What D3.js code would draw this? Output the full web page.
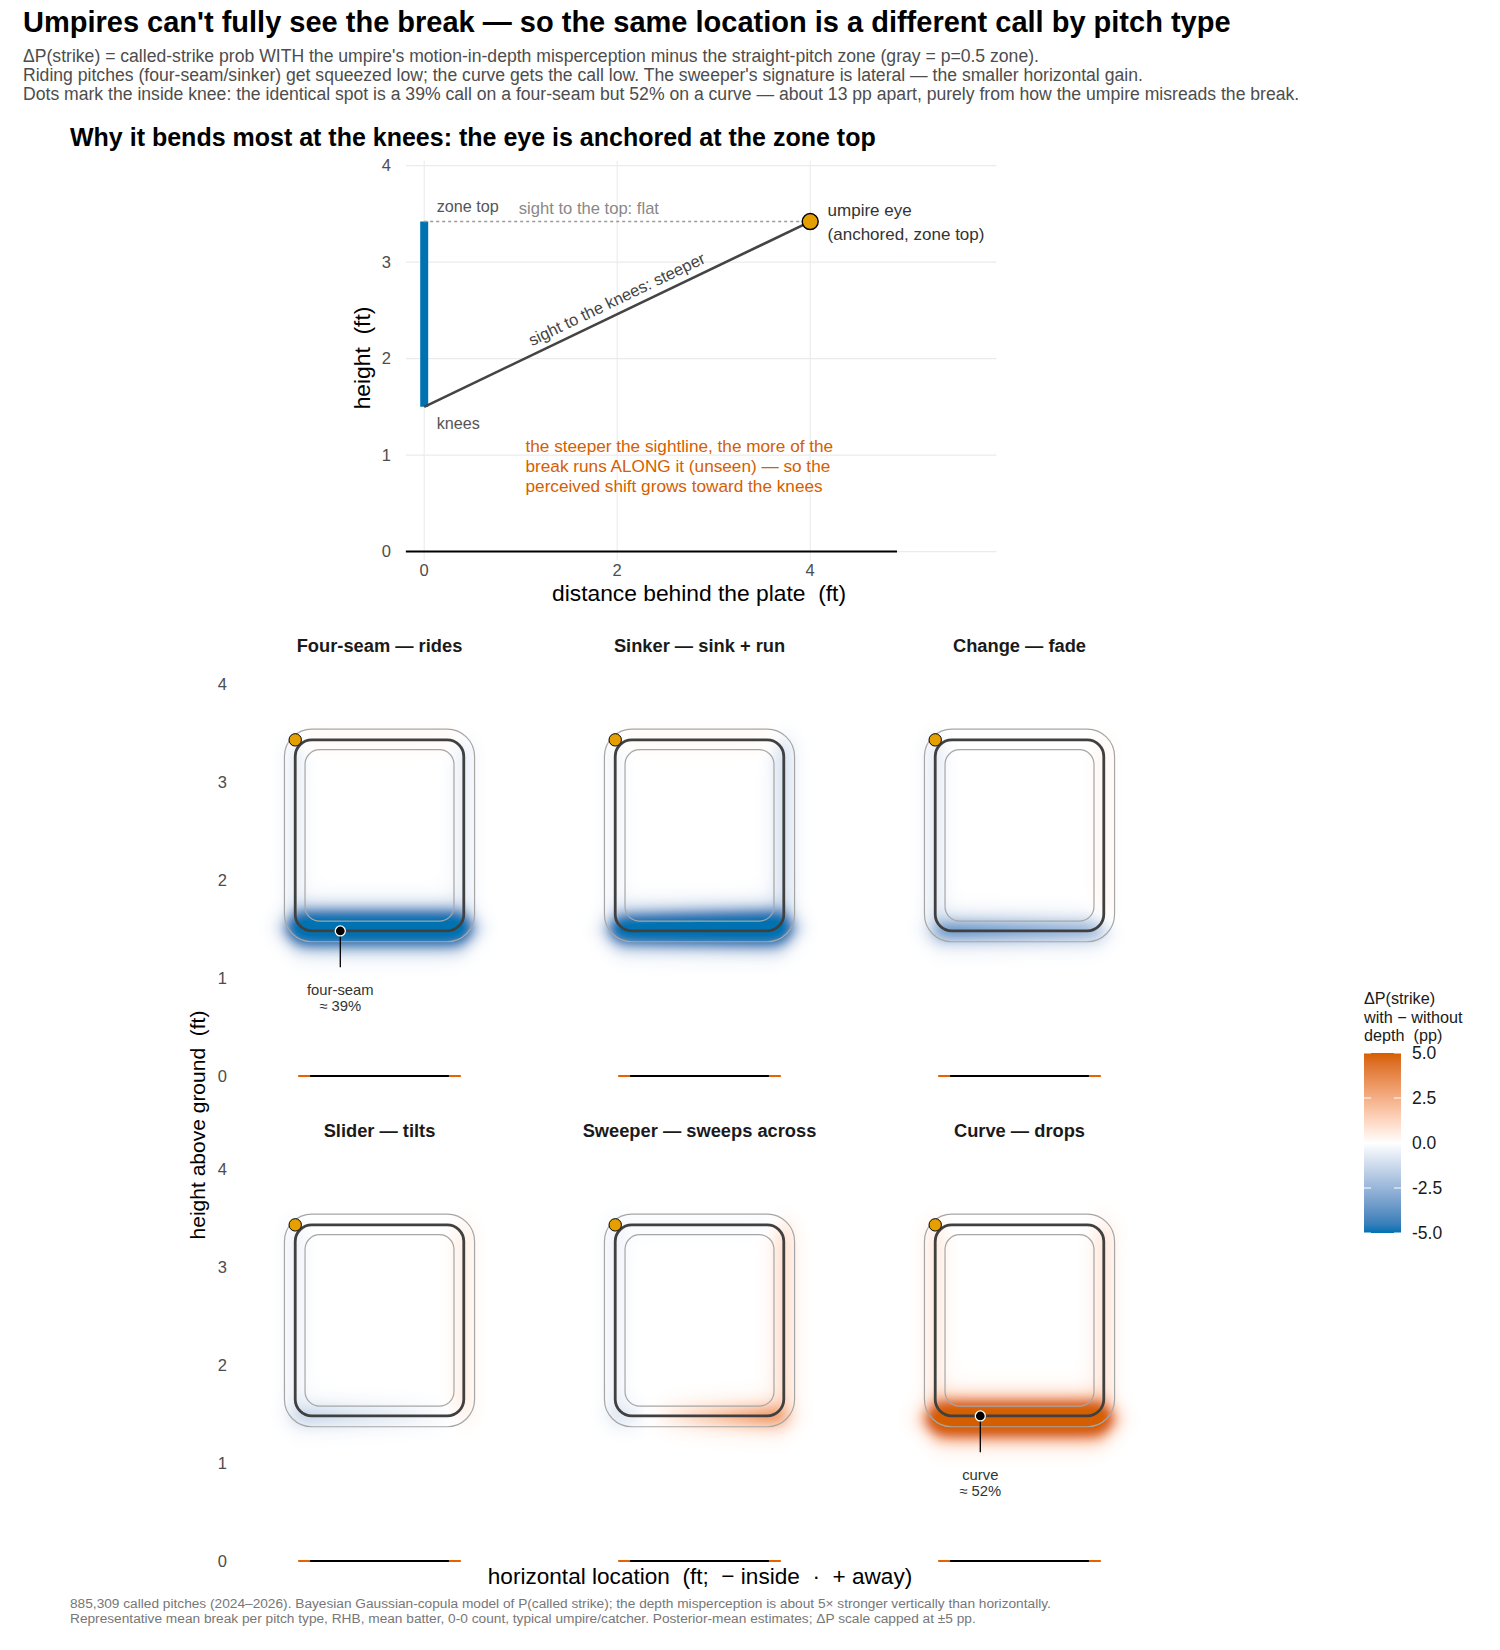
<!DOCTYPE html>
<html>
<head>
<meta charset="utf-8">
<script src="https://cdn.jsdelivr.net/npm/d3@7"></script>
<style>
body { margin: 0; background: #fff; }
svg text { font-family: "Liberation Sans", Arial, sans-serif; white-space: pre; }
</style>
</head>
<body>
<svg id="chart" width="1500" height="1650"></svg>
<script>
// ---------- data ----------
var pitchTypes = ["Four-seam — rides", "Sinker — sink + run", "Change — fade",
                  "Slider — tilts", "Sweeper — sweeps across", "Curve — drops"];
// perceived shift of each zone edge (ft); + = edge pushed outward (more strikes)
var shiftBottom = [-0.055, -0.044, -0.007, -0.0016, 0.003, 0.06];
var tiltBottom  = [0, -0.013, 0.002, 0.002, 0.006, 0];   // extra bottom shift per ft of x
var shiftTop    = [0.0004, 0.0004, 0, 0, -0.0003, 0];
var shiftInside = [-0.001, -0.0006, -0.0012, -0.0008, -0.0008, 0.0012];
var shiftAway   = [-0.001, -0.002, 0.0005, 0.001, 0.002, 0.0015];
var kneeLabels  = ["four-seam", null, null, null, null, "curve"];
var kneeCallPct = [39, null, null, null, null, 52];

var zoneX = [-0.86, 0.86], zoneZ = [1.48, 3.43];
var ringOffset = [0.11, 0, -0.10], ringRadius = [0.28, 0.17, 0.15];
var plateX = [-0.708, 0.708], plateBallX = [-0.83, 0.83];
var kneeSpot = [-0.40, 1.48];
var facetYTicks = [0, 1, 2, 3, 4];
var legendTicks = [-5, -2.5, 0, 2.5, 5];

// top (sightline) panel
var kneeZ = 1.5, topZ = 3.42, eyeX = 4;
var sideXTicks = [0, 2, 4], sideYTicks = [0, 1, 2, 3, 4];

// ---------- setup ----------
var svg = d3.select("#chart");
var blue = "#0072B2", orange = "#D55E00", gold = "#E69F00";

svg.append("text").attr("x", 23).attr("y", 32).attr("font-size", 29).attr("font-weight", "bold")
  .text("Umpires can't fully see the break — so the same location is a different call by pitch type");
var subs = ["ΔP(strike) = called-strike prob WITH the umpire's motion-in-depth misperception minus the straight-pitch zone (gray = p=0.5 zone).",
  "Riding pitches (four-seam/sinker) get squeezed low; the curve gets the call low. The sweeper's signature is lateral — the smaller horizontal gain.",
  "Dots mark the inside knee: the identical spot is a 39% call on a four-seam but 52% on a curve — about 13 pp apart, purely from how the umpire misreads the break."];
svg.selectAll(".sub").data(subs).enter().append("text")
  .attr("x", 23).attr("y", function(d, i) { return 62 + i * 19; })
  .attr("font-size", 17.6).attr("fill", "#4d4d4d").text(function(d) { return d; });

// ---------- top panel ----------
svg.append("text").attr("x", 70).attr("y", 146).attr("font-size", 25).attr("font-weight", "bold")
  .text("Why it bends most at the knees: the eye is anchored at the zone top");

var k = 96.5;
var sx = d3.scaleLinear().domain([-0.19, 5.93]).range([424.2 - 0.19 * k, 424.2 + 5.93 * k]);
var sy = d3.scaleLinear().domain([-0.09, 4.05]).range([551.6 + 0.09 * k, 551.6 - 4.05 * k]);
var sight = svg.append("g");

sight.selectAll(".hg").data(sideYTicks).enter().append("line")
  .attr("x1", sx(-0.19)).attr("x2", sx(5.93)).attr("y1", sy).attr("y2", sy)
  .attr("stroke", "#ebebeb").attr("stroke-width", 1.1);
sight.selectAll(".vg").data(sideXTicks).enter().append("line")
  .attr("y1", sy(-0.09)).attr("y2", sy(4.05)).attr("x1", sx).attr("x2", sx)
  .attr("stroke", "#ebebeb").attr("stroke-width", 1.1);
sight.selectAll(".yt").data(sideYTicks).enter().append("text")
  .attr("x", 391).attr("y", function(d) { return sy(d) + 5.5; }).attr("text-anchor", "end")
  .attr("font-size", 16.5).attr("fill", "#4d4d4d").text(function(d) { return d; });
sight.selectAll(".xt").data(sideXTicks).enter().append("text")
  .attr("x", sx).attr("y", 576).attr("text-anchor", "middle")
  .attr("font-size", 16.5).attr("fill", "#4d4d4d").text(function(d) { return d; });
sight.append("text").attr("x", 699).attr("y", 601).attr("text-anchor", "middle").attr("font-size", 22.8)
  .text("distance behind the plate  (ft)");
sight.append("text").attr("transform", "translate(370,358) rotate(-90)").attr("text-anchor", "middle")
  .attr("font-size", 22.8).text("height  (ft)");

// ground
sight.append("line").attr("x1", sx(-0.19)).attr("x2", sx(4.9)).attr("y1", sy(0)).attr("y2", sy(0))
  .attr("stroke", "#000").attr("stroke-width", 2);
// zone bar
sight.append("line").attr("x1", sx(0)).attr("x2", sx(0)).attr("y1", sy(kneeZ)).attr("y2", sy(topZ))
  .attr("stroke", blue).attr("stroke-width", 8);
// sightlines
sight.append("line").attr("x1", sx(0)).attr("x2", sx(eyeX)).attr("y1", sy(topZ)).attr("y2", sy(topZ))
  .attr("stroke", "#999").attr("stroke-width", 1.6).attr("stroke-dasharray", "3,3");
sight.append("line").attr("x1", sx(0)).attr("x2", sx(eyeX)).attr("y1", sy(kneeZ)).attr("y2", sy(topZ))
  .attr("stroke", "#444").attr("stroke-width", 2.6);
sight.append("circle").attr("cx", sx(eyeX)).attr("cy", sy(topZ)).attr("r", 8)
  .attr("fill", gold).attr("stroke", "#000").attr("stroke-width", 1.4);

sight.append("text").attr("x", sx(0.13)).attr("y", sy(topZ) - 10).attr("font-size", 16.2).attr("fill", "#555").text("zone top");
sight.append("text").attr("x", sx(0.98)).attr("y", sy(topZ) - 8).attr("font-size", 16.6).attr("fill", "#888").text("sight to the top: flat");
sight.append("text").attr("x", sx(0.13)).attr("y", sy(kneeZ) + 22).attr("font-size", 16.2).attr("fill", "#555").text("knees");
sight.append("text").attr("x", sx(4.18)).attr("y", sy(topZ) - 6).attr("font-size", 17).attr("fill", "#333").text("umpire eye");
sight.append("text").attr("x", sx(4.18)).attr("y", sy(topZ) + 18).attr("font-size", 17).attr("fill", "#333").text("(anchored, zone top)");
var ang = -Math.atan((sy(kneeZ) - sy(topZ)) / (sx(eyeX) - sx(0))) * 180 / Math.PI;
sight.append("text")
  .attr("transform", "translate(" + sx(2.02) + "," + (sy(kneeZ + (topZ - kneeZ) * 0.505) - 9) + ") rotate(" + ang + ")")
  .attr("text-anchor", "middle").attr("font-size", 16.5).attr("fill", "#444").text("sight to the knees: steeper");
var note = ["the steeper the sightline, the more of the", "break runs ALONG it (unseen) — so the", "perceived shift grows toward the knees"];
sight.selectAll(".note").data(note).enter().append("text")
  .attr("x", sx(1.05)).attr("y", function(d, i) { return 452 + i * 20; })
  .attr("font-size", 17.2).attr("fill", orange).text(function(d) { return d; });

// ---------- facets ----------
var color = d3.scaleLinear().domain([-5, 0, 5]).range([blue, "#ffffff", orange])
  .interpolate(d3.interpolateLab).clamp(true);
var kf = 98, half = 1.455, zLo = -0.1, zHi = 4.22;
var colCenter = [379.5, 699.5, 1019.5], rowZero = [1076, 1561];

var defs = svg.append("defs");
defs.append("filter").attr("id", "soft").attr("x", "-5%").attr("y", "-5%").attr("width", "110%").attr("height", "110%")
  .append("feGaussianBlur").attr("stdDeviation", 4.5);

function sig(v) { return 1 / (1 + Math.exp(-v)); }
var sX = 0.05, sZ = 0.056;
function pZone(x, z, l, r, b, t) {
  return sig((x - l) / sX) * sig((r - x) / sX) * sig((z - b) / sZ) * sig((t - z) / sZ);
}
function roundRect(x0, x1, y0, y1, r) {
  var p = d3.path();
  p.moveTo(x0 + r, y0); p.lineTo(x1 - r, y0); p.arcTo(x1, y0, x1, y0 + r, r);
  p.lineTo(x1, y1 - r); p.arcTo(x1, y1, x1 - r, y1, r);
  p.lineTo(x0 + r, y1); p.arcTo(x0, y1, x0, y1 - r, r);
  p.lineTo(x0, y0 + r); p.arcTo(x0, y0, x0 + r, y0, r); p.closePath();
  return p.toString();
}

pitchTypes.forEach(function(name, i) {
  var col = i % 3, row = Math.floor(i / 3);
  var x = d3.scaleLinear().domain([-half, half]).range([colCenter[col] - half * kf, colCenter[col] + half * kf]);
  var y = d3.scaleLinear().domain([zLo, zHi]).range([rowZero[row] - zLo * kf, rowZero[row] - zHi * kf]);
  var g = svg.append("g");

  g.append("text").attr("x", colCenter[col]).attr("y", y(zHi) - 10).attr("text-anchor", "middle")
    .attr("font-size", 18.3).attr("font-weight", "bold").attr("fill", "#1a1a1a").text(name);

  g.selectAll(".gr").data(facetYTicks).enter().append("line")
    .attr("x1", x(-half)).attr("x2", x(half)).attr("y1", y).attr("y2", y)
    .attr("stroke", "#f6f6f6").attr("stroke-width", 1);
  if (col === 0) {
    g.selectAll(".yt").data(facetYTicks).enter().append("text")
      .attr("x", 227).attr("y", function(d) { return y(d) + 5.5; }).attr("text-anchor", "end")
      .attr("font-size", 16.5).attr("fill", "#4d4d4d").text(function(d) { return d; });
  }

  // heat raster of ΔP (pp)
  var w = Math.round(x(half) - x(-half)), h = Math.round(y(zLo) - y(zHi));
  var cv = document.createElement("canvas"); cv.width = w; cv.height = h;
  var ctx = cv.getContext("2d"), img = ctx.createImageData(w, h);
  for (var py = 0; py < h; py++) {
    var zz = y.invert(y(zHi) + py + 0.5);
    for (var px = 0; px < w; px++) {
      var xx = x.invert(x(-half) + px + 0.5);
      var base = pZone(xx, zz, zoneX[0], zoneX[1], zoneZ[0], zoneZ[1]);
      var shifted = pZone(xx, zz, zoneX[0] - shiftInside[i], zoneX[1] + shiftAway[i],
        zoneZ[0] - (shiftBottom[i] + tiltBottom[i] * xx), zoneZ[1] + shiftTop[i]);
      var c = d3.rgb(color(100 * (shifted - base)));
      var o = (py * w + px) * 4;
      img.data[o] = c.r; img.data[o + 1] = c.g; img.data[o + 2] = c.b; img.data[o + 3] = 255;
    }
  }
  ctx.putImageData(img, 0, 0);
  g.append("image").attr("x", x(-half)).attr("y", y(zHi)).attr("width", w).attr("height", h)
    .attr("href", cv.toDataURL()).attr("filter", "url(#soft)");

  // zone rings
  ringOffset.forEach(function(off, j) {
    g.append("path")
      .attr("d", roundRect(x(zoneX[0] - off), x(zoneX[1] + off), y(zoneZ[1] + off), y(zoneZ[0] - off), ringRadius[j] * kf))
      .attr("fill", "none").attr("stroke", off === 0 ? "#404040" : "#a6a6a6").attr("stroke-width", off === 0 ? 2.8 : 1.2);
  });

  // plate
  g.append("line").attr("x1", x(plateBallX[0])).attr("x2", x(plateBallX[1])).attr("y1", y(0)).attr("y2", y(0))
    .attr("stroke", "#E66100").attr("stroke-width", 2);
  g.append("line").attr("x1", x(plateX[0])).attr("x2", x(plateX[1])).attr("y1", y(0)).attr("y2", y(0))
    .attr("stroke", "#000").attr("stroke-width", 2);

  // eye anchor
  g.append("circle").attr("cx", x(zoneX[0])).attr("cy", y(zoneZ[1])).attr("r", 6.2)
    .attr("fill", gold).attr("stroke", "#000").attr("stroke-width", 1);

  // knee marker
  if (kneeLabels[i]) {
    g.append("line").attr("x1", x(kneeSpot[0])).attr("x2", x(kneeSpot[0]))
      .attr("y1", y(kneeSpot[1])).attr("y2", y(1.11)).attr("stroke", "#000").attr("stroke-width", 1.3);
    g.append("circle").attr("cx", x(kneeSpot[0])).attr("cy", y(kneeSpot[1])).attr("r", 5)
      .attr("fill", "#000").attr("stroke", "#fff").attr("stroke-width", 1.3);
    g.append("text").attr("x", x(kneeSpot[0])).attr("y", y(0.83)).attr("text-anchor", "middle")
      .attr("font-size", 14.8).attr("fill", "#333").text(kneeLabels[i]);
    g.append("text").attr("x", x(kneeSpot[0])).attr("y", y(0.83) + 16.5).attr("text-anchor", "middle")
      .attr("font-size", 14.8).attr("fill", "#333").text("≈ " + kneeCallPct[i] + "%");
  }
});

svg.append("text").attr("transform", "translate(205,1125) rotate(-90)").attr("text-anchor", "middle")
  .attr("font-size", 21).text("height above ground  (ft)");
svg.append("text").attr("x", 700).attr("y", 1584).attr("text-anchor", "middle").attr("font-size", 22.6)
  .text("horizontal location  (ft;  − inside  ·  + away)");

// ---------- legend ----------
var lg = svg.append("g");
["ΔP(strike)", "with − without", "depth  (pp)"].forEach(function(t, i) {
  lg.append("text").attr("x", 1364).attr("y", 1004 + i * 18.5).attr("font-size", 16.2).attr("fill", "#1a1a1a").text(t);
});
var ly = d3.scaleLinear().domain([-5, 5]).range([1233, 1053]);
var grad = defs.append("linearGradient").attr("id", "dp").attr("x1", 0).attr("x2", 0).attr("y1", 1).attr("y2", 0);
d3.range(0, 1.0001, 0.05).forEach(function(t) {
  grad.append("stop").attr("offset", t).attr("stop-color", color(-5 + 10 * t));
});
lg.append("rect").attr("x", 1364).attr("y", ly(5)).attr("width", 37).attr("height", ly(-5) - ly(5)).attr("fill", "url(#dp)");
lg.selectAll(".tk").data(legendTicks).enter().append("g").each(function(d) {
  d3.select(this).append("line").attr("x1", 1364).attr("x2", 1371).attr("y1", ly(d)).attr("y2", ly(d)).attr("stroke", "#fff");
  d3.select(this).append("line").attr("x1", 1394).attr("x2", 1401).attr("y1", ly(d)).attr("y2", ly(d)).attr("stroke", "#fff");
});
lg.selectAll(".tl").data(legendTicks).enter().append("text")
  .attr("x", 1412).attr("y", function(d) { return ly(d) + 6; }).attr("font-size", 17.5).attr("fill", "#1a1a1a")
  .text(function(d) { return d.toFixed(1); });

// ---------- footer ----------
["885,309 called pitches (2024–2026). Bayesian Gaussian-copula model of P(called strike); the depth misperception is about 5× stronger vertically than horizontally.",
 "Representative mean break per pitch type, RHB, mean batter, 0-0 count, typical umpire/catcher. Posterior-mean estimates; ΔP scale capped at ±5 pp."
].forEach(function(t, i) {
  svg.append("text").attr("x", 70).attr("y", 1608 + i * 15).attr("font-size", 13.7).attr("fill", "#777").text(t);
});
</script>
</body>
</html>
